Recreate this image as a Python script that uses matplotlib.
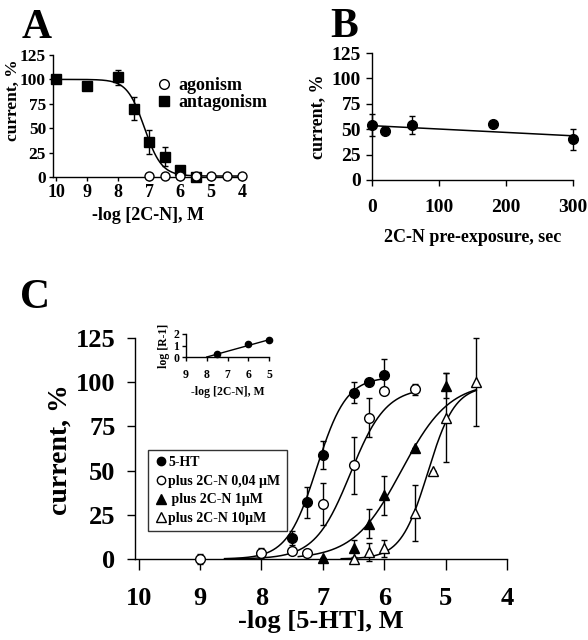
import matplotlib
matplotlib.use("Agg")
import matplotlib.pyplot as plt
from matplotlib.lines import Line2D
import numpy as np

plt.rcParams['font.family'] = ['Liberation Serif', 'DejaVu Serif']
plt.rcParams['font.weight'] = 'bold'
plt.rcParams['axes.labelweight'] = 'bold'
plt.rcParams['axes.linewidth'] = 1.0

W, H = 588, 640

### Панель A
a_ant_x = [10, 9, 8, 7.5, 7, 6.5, 6, 5.5]
a_ant_y = [100, 93, 102, 70, 36, 21, 7, 0]
a_ant_err = [0, 0, 8, 12, 12, 10, 0, 0]
a_ago_x = [7, 6.5, 6, 5.5, 5, 4.5, 4]
a_ago_y = [1, 1, 1, 1, 1, 1, 1]
a_fit = dict(top=100, bottom=1, p=7.15, n=1.56, x0=10, x1=4)

### Панель B
b_x = [0, 20, 60, 180, 300]
b_y = [54, 48, 54, 55, 40]
b_err = [11, 0, 9, 0, 10]
b_line_x = [0, 300]
b_line_y = [53.5, 43.5]

### Панель C
c_names = ["5-HT", "plus 2C-N 0,04 µM", " plus 2C-N 1µM", "plus 2C-N 10µM"]
c_x = [
    [7.5, 7.25, 7.0, 6.5, 6.25, 6.0],
    [9, 8, 7.5, 7.25, 7.0, 6.5, 6.25, 6.0, 5.5],
    [7.0, 6.5, 6.25, 6.0, 5.5, 5.0],
    [6.5, 6.25, 6.0, 5.5, 5.0, 5.2, 4.5],
]
c_y = [
    [12, 32, 59, 94, 100, 104],
    [0, 3.5, 4.7, 3.6, 31, 53, 80, 95, 96],
    [0.5, 6, 20, 36, 63, 98],
    [0, 4, 6, 26, 80, 50, 100],
]
c_err = [
    [4, 9, 8, 6, 0, 9],
    [3, 3, 0, 0, 12, 16, 11, 0, 3],
    [0, 5, 8, 11, 0, 7],
    [0, 5, 5, 16, 25, 0, 25],
]
# параметры кривых Хилла: top, pEC50, nH, диапазон
c_fits = [
    (103, 7.1, 1.8, 8.6, 6.0),
    (97, 6.55, 1.5, 8.6, 5.5),
    (100, 5.72, 1.11, 7.4, 4.5),
    (98, 5.29, 1.97, 6.7, 4.5),
]
c_markers = ['o', 'o', '^', '^']
c_fill = ['k', 'white', 'k', 'white']

### Вставка
ins_x = [7.5, 6, 5]
ins_y = [0.3, 1.1, 1.45]
ins_line_x = [8, 5]
ins_line_y = [0, 1.5]


def box(l, t, r, b):
    return [l / W, 1 - b / H, (r - l) / W, (b - t) / H]


def style(ax, fs, pad, tl=4):
    for s in ['top', 'right']:
        ax.spines[s].set_visible(False)
    ax.tick_params(direction='out', length=tl, width=1, labelsize=fs, pad=pad)
    for lab in ax.get_xticklabels() + ax.get_yticklabels():
        lab.set_fontweight('bold')


def hill_up(x, top, p, n):
    return top / (1 + 10 ** (n * (x - p)))


fig = plt.figure(figsize=(W / 100, H / 100), dpi=100)

# ---------- A ----------
axA = fig.add_axes(box(53, 55, 242, 177))
t = np.linspace(a_fit['x0'], a_fit['x1'], 300)
yA = a_fit['bottom'] + (a_fit['top'] - a_fit['bottom']) / (1 + 10 ** (a_fit['n'] * (a_fit['p'] - t)))
axA.plot(t, yA, 'k', lw=1.1)
axA.errorbar(a_ant_x, a_ant_y, yerr=a_ant_err, fmt='s', color='k', ms=6.5,
             capsize=2.5, elinewidth=1, clip_on=False, zorder=3)
axA.plot(a_ago_x, a_ago_y, 'o', mfc='white', mec='k', ms=6.5, mew=1,
         clip_on=False, zorder=4)
axA.set_xlim(10.1, 4)
axA.set_ylim(0, 125)
axA.set_xticks([10, 9, 8, 7, 6, 5, 4])
axA.set_yticks([0, 25, 50, 75, 100, 125])
style(axA, 12.5, 2, 3)
axA.tick_params(axis='x', labelsize=13)
axA.set_ylabel("current, %", fontsize=12.5)
# координата x метки = правый край повернутого текста
axA.yaxis.set_label_coords((21 - 53) / 189, (177 - 100) / 122)
axA.set_xlabel("-log [2C-N], M", fontsize=13, labelpad=4)
hA = [Line2D([], [], ls='', marker='o', mfc='white', mec='k', ms=7),
      Line2D([], [], ls='', marker='s', color='k', ms=7)]
axA.legend(hA, ['agonism', 'antagonism'], loc='upper left', frameon=False,
           bbox_to_anchor=(148 / W, 1 - 70 / H), bbox_transform=fig.transFigure,
           handletextpad=0.3, borderaxespad=0, labelspacing=0.0,
           handlelength=1.0, prop={'size': 13, 'weight': 'bold'})
fig.text(22 / W, 1 - 28 / H, "A", fontsize=30, fontweight='bold', va='center')

# ---------- B ----------
axB = fig.add_axes(box(372, 53, 573, 180))
axB.plot(b_line_x, b_line_y, 'k', lw=1.1)
axB.errorbar(b_x, b_y, yerr=b_err, fmt='o', color='k', ms=7, capsize=2.5,
             elinewidth=1, clip_on=False, zorder=3)
axB.set_xlim(0, 300)
axB.set_ylim(0, 125)
axB.set_xticks([0, 100, 200, 300])
axB.set_yticks([0, 25, 50, 75, 100, 125])
style(axB, 14, 4, 4)
axB.tick_params(axis='x', pad=10)
axB.set_ylabel("current, %", fontsize=13, labelpad=4)
axB.set_xlabel("2C-N pre-exposure, sec", fontsize=13, labelpad=9)
fig.text(330 / W, 1 - 27 / H, "B", fontsize=30, fontweight='bold', va='center')

# ---------- C ----------
axC = fig.add_axes(box(135, 338, 507, 559))
for i in range(4):
    top, p, n, x0, x1 = c_fits[i]
    tt = np.linspace(x0, x1, 300)
    axC.plot(tt, hill_up(tt, top, p, n), 'k', lw=1.1, zorder=2)
for i in range(4):
    axC.errorbar(c_x[i], c_y[i], yerr=c_err[i], fmt=c_markers[i], mfc=c_fill[i],
                 mec='k', ecolor='k', ms=7.5 if c_markers[i] == '^' else 7,
                 mew=1, capsize=2.5, elinewidth=1, clip_on=False, zorder=3)
axC.set_xlim(10.06, 4)
axC.set_ylim(0, 125)
axC.set_xticks([10, 9, 8, 7, 6, 5, 4])
axC.set_yticks([0, 25, 50, 75, 100, 125])
style(axC, 19, 8, 6)
axC.tick_params(axis='x', pad=12, length=8)
axC.set_ylabel("current, %", fontsize=20)
axC.yaxis.set_label_coords((73 - 135) / 372, (559 - 450) / 221)
axC.set_xlabel("-log [5-HT], M", fontsize=19, labelpad=0)
hC = [Line2D([], [], ls='', marker=c_markers[i], mfc=c_fill[i], mec='k',
             ms=6.5 if c_markers[i] == '^' else 6) for i in range(4)]
legC = axC.legend(hC, c_names, loc='upper left', frameon=True, fancybox=False,
                  bbox_to_anchor=(148 / W, 1 - 450 / H), bbox_transform=fig.transFigure,
                  handletextpad=0.1, borderaxespad=0, labelspacing=0.4,
                  handlelength=0.9, borderpad=0.45,
                  prop={'size': 10, 'weight': 'bold'})
legC.get_frame().set_edgecolor('k')
legC.get_frame().set_linewidth(1)
fig.text(20 / W, 1 - 298 / H, "C", fontsize=30, fontweight='bold', va='center')

# ---------- вставка ----------
axI = fig.add_axes(box(186, 334, 269, 357))
axI.plot(ins_line_x, ins_line_y, 'k', lw=1)
axI.plot(ins_x, ins_y, 'o', color='k', ms=4.5, clip_on=False)
axI.set_xlim(9, 5)
axI.set_ylim(0, 2)
axI.set_xticks([9, 8, 7, 6, 5])
axI.set_yticks([0, 1, 2])
style(axI, 8.5, 2, 3)
axI.tick_params(axis='x', pad=6)
axI.set_ylabel("log [R-1]", fontsize=8.5, labelpad=2)
axI.set_xlabel("-log [2C-N], M", fontsize=8.5, labelpad=3)

fig.savefig("out.png", dpi=100)
